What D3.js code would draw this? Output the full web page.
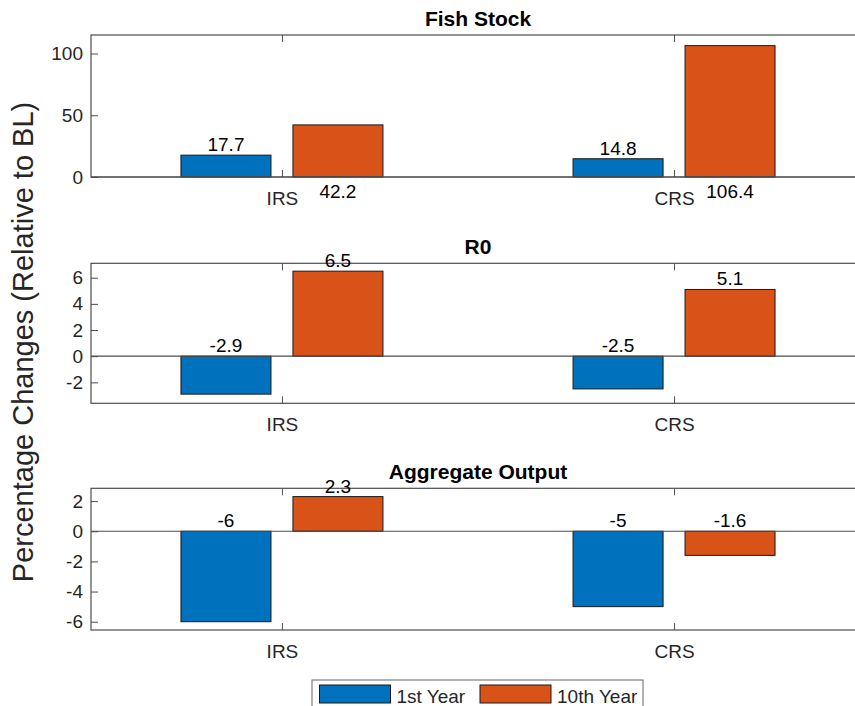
<!DOCTYPE html>
<html>
<head>
<meta charset="utf-8">
<script src="https://cdn.jsdelivr.net/npm/d3@7"></script>
<style>
  html, body { margin: 0; padding: 0; background: #fff; }
  svg { display: block; font-family: "Liberation Sans", Arial, Helvetica, sans-serif; }
</style>
</head>
<body>
<svg id="chart" width="855" height="706"></svg>
<script>
// ---- data ----
const categories = ["IRS", "CRS"];
const seriesNames = ["1st Year", "10th Year"];
const panelTitles = ["Fish Stock", "R0", "Aggregate Output"];

const fishStock1st = [17.7, 14.8];
const fishStock10th = [42.2, 106.4];
const r0First = [-2.9, -2.5];
const r0Tenth = [6.5, 5.1];
const output1st = [-6, -5];
const output10th = [2.3, -1.6];

const fishTicks = [0, 50, 100];
const r0Ticks = [-2, 0, 2, 4, 6];
const outputTicks = [-6, -4, -2, 0, 2];

const fishLimits = [0, 115];
const r0Limits = [-3.6, 7.1];
const outputLimits = [-6.55, 2.85];

// ---- layout / style ----
const colors = ["#0072BD", "#D95319"];
const axisColor = "#4d4d4d";
const textColor = "#262626";
const baseFont = 19;
const left = 91, right = 865;
const panelFrames = [
  { top: 35, bottom: 177 },
  { top: 263.3, bottom: 403.3 },
  { top: 488.3, bottom: 630 }
];

const panels = [
  { title: panelTitles[0], values: [fishStock1st, fishStock10th], ticks: fishTicks, limits: fishLimits },
  { title: panelTitles[1], values: [r0First, r0Tenth], ticks: r0Ticks, limits: r0Limits },
  { title: panelTitles[2], values: [output1st, output10th], ticks: outputTicks, limits: outputLimits }
];

const svg = d3.select("#chart");

const x = d3.scalePoint().domain(categories).range([left, right]).padding(0.487);
const xSub = d3.scaleBand().domain(seriesNames).range([-101, 101]).paddingInner(0.196);

panels.forEach((p, pi) => {
  const f = panelFrames[pi];
  const y = d3.scaleLinear().domain(p.limits).range([f.bottom, f.top]);
  const g = svg.append("g");

  // bars
  p.values.forEach((vals, si) => {
    g.selectAll(null)
      .data(vals.map((v, ci) => ({ v, c: categories[ci] })))
      .enter().append("rect")
      .attr("x", d => x(d.c) + xSub(seriesNames[si]))
      .attr("width", xSub.bandwidth())
      .attr("y", d => y(Math.max(d.v, 0)))
      .attr("height", d => Math.abs(y(d.v) - y(0)))
      .attr("fill", colors[si])
      .attr("stroke", "#1a1a1a")
      .attr("stroke-width", 1);
  });

  // baseline at zero
  g.append("line")
    .attr("x1", left).attr("x2", right)
    .attr("y1", y(0)).attr("y2", y(0))
    .attr("stroke", axisColor).attr("stroke-width", 1.2);

  // axes
  const yAxis = d3.axisLeft(y).tickValues(p.ticks).tickFormat(d => String(d))
    .tickSizeInner(-7).tickSizeOuter(0).tickPadding(8);
  const ya = g.append("g").attr("transform", `translate(${left},0)`).call(yAxis);

  const xAxis = d3.axisBottom(x).tickSizeInner(-7).tickSizeOuter(0).tickPadding(14.5);
  const xa = g.append("g").attr("transform", `translate(0,${f.bottom})`).call(xAxis);

  const xTop = d3.axisTop(x).tickSizeInner(-7).tickSizeOuter(0).tickFormat("");
  const xt = g.append("g").attr("transform", `translate(0,${f.top})`).call(xTop);

  [ya, xa, xt].forEach(a => {
    a.select(".domain").remove();
    a.selectAll(".tick line").attr("stroke", axisColor).attr("stroke-width", 1);
    a.selectAll(".tick text").attr("fill", textColor).style("font-size", baseFont + "px");
  });

  // axes box
  g.append("rect")
    .attr("x", left).attr("y", f.top)
    .attr("width", right - left).attr("height", f.bottom - f.top)
    .attr("fill", "none").attr("stroke", axisColor).attr("stroke-width", 1.2);

  // title
  g.append("text")
    .attr("x", (left + right) / 2).attr("y", f.top - 9)
    .attr("text-anchor", "middle")
    .attr("fill", "#000")
    .style("font-size", "21px").style("font-weight", "bold")
    .text(p.title);

  // value labels
  p.values.forEach((vals, si) => {
    g.selectAll(null)
      .data(vals.map((v, ci) => ({ v, c: categories[ci] })))
      .enter().append("text")
      .attr("x", d => x(d.c) + xSub(seriesNames[si]) + xSub.bandwidth() / 2)
      .attr("y", d => (pi === 0 && si === 1) ? y(0) + 21 : y(Math.max(d.v, 0)) - 4)
      .attr("text-anchor", "middle")
      .attr("fill", "#000")
      .style("font-size", baseFont + "px")
      .text(d => String(d.v));
  });
});

// shared y label
svg.append("text")
  .attr("transform", "translate(33,342) rotate(-90)")
  .attr("text-anchor", "middle")
  .attr("fill", textColor)
  .style("font-size", "29px")
  .text("Percentage Changes (Relative to BL)");

// legend
const legend = svg.append("g");
legend.append("rect")
  .attr("x", 312).attr("y", 680).attr("width", 331).attr("height", 34)
  .attr("fill", "#fff").attr("stroke", "#666").attr("stroke-width", 1);
const legendX = [319.5, 480];
seriesNames.forEach((name, i) => {
  legend.append("rect")
    .attr("x", legendX[i]).attr("y", 685)
    .attr("width", 71).attr("height", 18)
    .attr("fill", colors[i]).attr("stroke", "#1a1a1a").attr("stroke-width", 1);
  legend.append("text")
    .attr("x", legendX[i] + 77).attr("y", 703)
    .attr("fill", textColor)
    .style("font-size", baseFont + "px")
    .text(name);
});
</script>
</body>
</html>
